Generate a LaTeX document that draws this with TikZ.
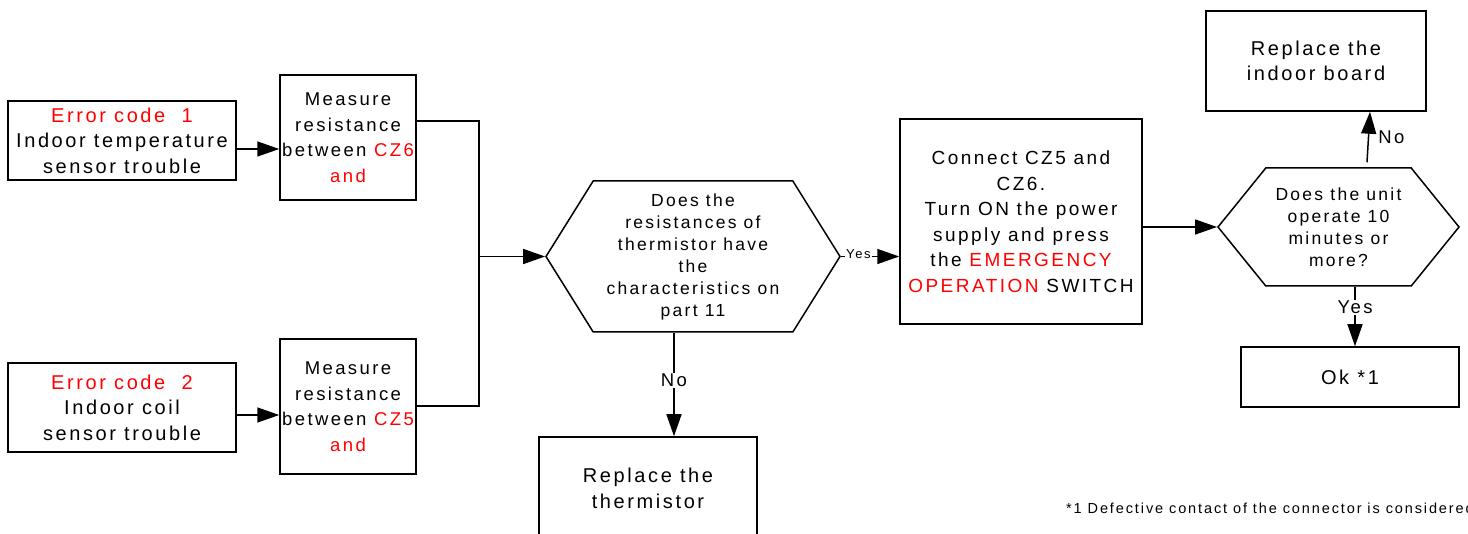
\documentclass[tikz,border=0pt]{standalone}
\usepackage{fontspec}
\setmainfont[LetterSpace=13]{Liberation Sans}
\usetikzlibrary{arrows.meta,shapes.symbols}
\begin{document}
\begin{tikzpicture}[x=1pt,y=-1pt,
 box/.style={draw, line width=1.5pt, inner sep=0pt, align=center, font=\fontsize{20}{25.5}\selectfont},
 mbox/.style={box, font=\fontsize{18.5}{25.5}\selectfont},
 hexa/.style={draw, line width=1.5pt, signal, signal to=west and east, inner sep=0pt, align=center, font=\fontsize{17.5}{22}\selectfont},
 conn/.style={line width=1.5pt},
 arr/.style={conn, -{Triangle[length=22pt,width=15pt]}},
 lbl/.style={fill=white, inner sep=1pt, font=\fontsize{18.5}{22}\selectfont},
 slbl/.style={fill=white, inner sep=1pt, font=\fontsize{13}{15}\selectfont}]
\useasboundingbox (0,0) rectangle (1468,534);
\clip (0,0) rectangle (1468,534);
\fill[white] (0,0) rectangle (1468,534);

\node[box, minimum width=228, minimum height=79] (e1) at (122,140.5)
  {\textcolor{red}{Error code\ \ 1}\\Indoor temperature\\sensor trouble};
\node[mbox, minimum width=136, minimum height=125] (m1) at (348,137.5)
  {Measure\\resistance\\between \textcolor{red}{CZ6}\\\textcolor{red}{and}};
\node[box, minimum width=228, minimum height=89] (e2) at (122,407.5)
  {\textcolor{red}{Error code\ \ 2}\\Indoor coil\\sensor trouble};
\node[mbox, minimum width=136, minimum height=135] (m2) at (348,406.5)
  {Measure\\resistance\\between \textcolor{red}{CZ5}\\\textcolor{red}{and}};
\node[hexa, signal pointer angle=116, minimum width=294, minimum height=151] (h1) at (693,256.5)
  {Does the\\resistances of\\thermistor have\\the\\characteristics on\\part 11};
\node[box, font=\fontsize{19}{25.5}\selectfont, minimum width=242, minimum height=205] (c) at (1021,221.5)
  {Connect CZ5 and\\CZ6.\\Turn ON the power\\supply and press\\the \textcolor{red}{EMERGENCY}\\\textcolor{red}{OPERATION} SWITCH};
\node[hexa, signal pointer angle=102, minimum width=241, minimum height=118] (h2) at (1338.5,227)
  {Does the unit\\operate 10\\minutes or\\more?};
\node[box, minimum width=220, minimum height=100] (r) at (1316,61)
  {Replace the\\indoor board};
\node[box, minimum width=218, minimum height=60] (ok) at (1350,377) {Ok *1};
\node[box, minimum width=218, minimum height=103] (t) at (648,488.5)
  {Replace the\\thermistor};
\node[anchor=west, inner sep=0pt, font=\fontsize{14.5}{17}\selectfont] (fn) at (1066,508)
  {*1 Defective contact of the connector is considered};

\coordinate (j) at (479,256.5);
\draw[arr] (e1.east |- 0,149) -- (m1.west |- 0,149);
\draw[arr] (e2.east |- 0,415) -- (m2.west |- 0,415);
\draw[conn] (m1.east |- 0,121) -| (j);
\draw[conn] (m2.east |- 0,406) -| (j);
\draw[arr] (j) -- (h1.west);
\draw[arr] (h1.east) -- node[slbl, pos=0.3, yshift=2pt] {Yes} (c.west |- h1.east);
\draw[arr] (c.east |- h2.west) -- (h2.west);
\draw[arr] ([xshift=28.5pt, yshift=5pt]h2.north) -- node[lbl, midway, right=8pt] {No} ([xshift=54pt]r.south);
\draw[arr] ([xshift=16.5pt]h2.south) -- node[lbl, pos=0.35] {Yes} ([xshift=5pt]ok.north);
\draw[arr] ([xshift=-19pt]h1.south) -- node[lbl, pos=0.46] {No} ([xshift=26pt]t.north);
\end{tikzpicture}
\end{document}
